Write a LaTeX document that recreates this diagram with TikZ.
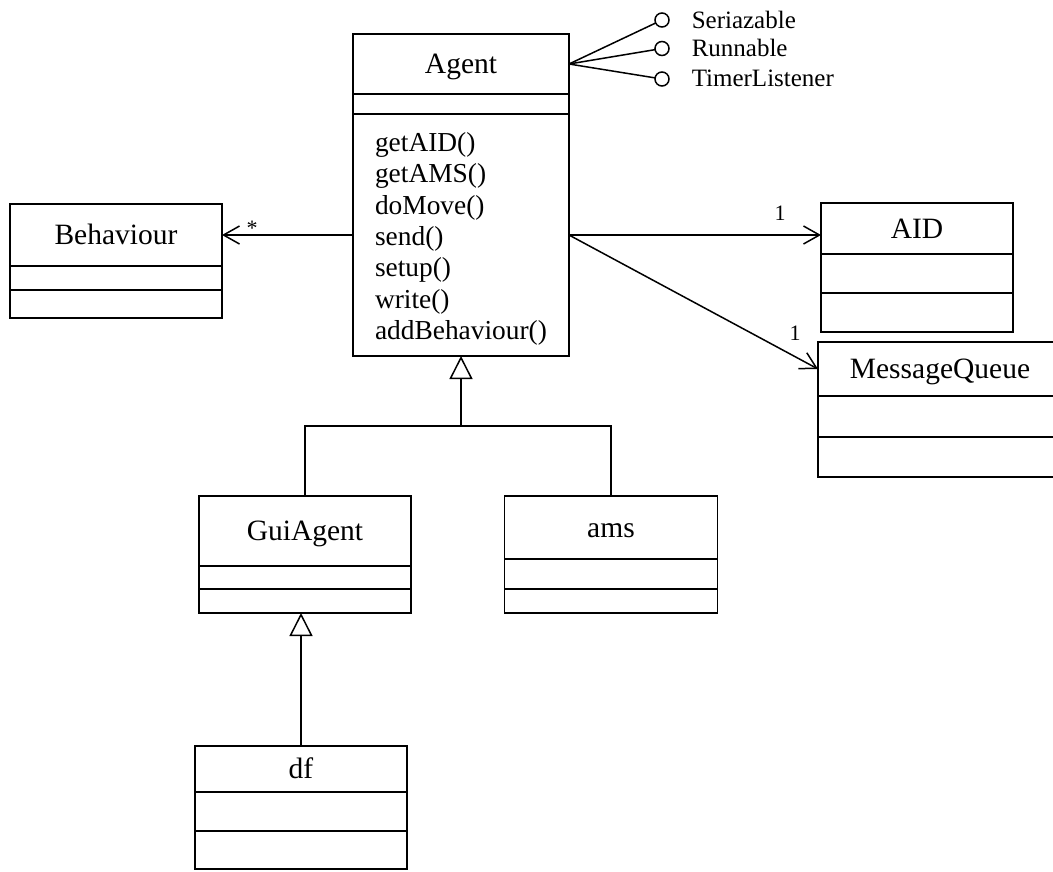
\documentclass[tikz,border=0pt]{standalone}
\usepackage{fontspec}
\setmainfont{Liberation Serif}
\usepackage{tikz}
\usetikzlibrary{arrows.meta}
\usetikzlibrary{calc}

\begin{document}
\begin{tikzpicture}[x=1pt, y=-1pt, line width=1.5pt,
        class_name_style/.style={draw=black, rectangle, anchor=north, inner sep=2pt, outer sep=0pt, text height=26.5pt, text depth=7pt, font=\fontsize{29.5}{35}\selectfont},
        compartment_style/.style={draw=black, rectangle, anchor=north, inner sep=2pt, outer sep=0pt, align=left, font=\fontsize{27.4}{31.3}\selectfont},
        interface_style/.style={circle, draw=black, fill=white, minimum size=14pt, inner sep=0pt, outer sep=0pt},
        interface_label_style/.style={anchor=base west, inner sep=0pt, font=\fontsize{25}{29}\selectfont},
        mult_style/.style={anchor=base, inner sep=0pt, font=\fontsize{22}{26}\selectfont},
        assoc_edge_style/.style={draw=black, -{Straight Barb[length=16pt, width=18pt]}},
        gen_edge_style/.style={draw=black, -{Triangle[open, length=23pt, width=23pt]}}]

        \useasboundingbox (0,0) rectangle (1053,871);
        \clip (0,0) rectangle (1053,871);

        % Agent
        \node [class_name_style, minimum width=216pt, minimum height=60pt](agent_name) at (461,34) {Agent};

        \node [compartment_style, minimum width=216pt, minimum height=20pt](agent_attr) at (agent_name.south) {};

        \node [compartment_style, minimum width=216pt, minimum height=242pt](agent_ops) at (agent_attr.south) {\rule{0pt}{27pt}getAID()\\getAMS()\\doMove()\\send()\\setup()\\write()\\addBehaviour()};

        % Behaviour
        \node [class_name_style, minimum width=212pt, minimum height=62pt](behaviour_name) at (116,204) {Behaviour};

        \node [compartment_style, minimum width=212pt, minimum height=24pt](behaviour_attr) at (behaviour_name.south) {};

        \node [compartment_style, minimum width=212pt, minimum height=28pt](behaviour_ops) at (behaviour_attr.south) {};

        % AID
        \node [class_name_style, minimum width=192pt, minimum height=51pt](aid_name) at (917,203) {AID};

        \node [compartment_style, minimum width=192pt, minimum height=39pt](aid_attr) at (aid_name.south) {};

        \node [compartment_style, minimum width=192pt, minimum height=39pt](aid_ops) at (aid_attr.south) {};

        % MessageQueue
        \node [class_name_style, minimum width=244pt, minimum height=54pt](mq_name) at (940,342) {MessageQueue};

        \node [compartment_style, minimum width=244pt, minimum height=41pt](mq_attr) at (mq_name.south) {};

        \node [compartment_style, minimum width=244pt, minimum height=40pt](mq_ops) at (mq_attr.south) {};

        % GuiAgent
        \node [class_name_style, minimum width=212pt, minimum height=70pt](gui_name) at (305,496) {GuiAgent};

        \node [compartment_style, minimum width=212pt, minimum height=23pt](gui_attr) at (gui_name.south) {};

        \node [compartment_style, minimum width=212pt, minimum height=24pt](gui_ops) at (gui_attr.south) {};

        % ams
        \node [class_name_style, minimum width=213pt, minimum height=63pt](ams_name) at (611,496) {ams};

        \node [compartment_style, minimum width=213pt, minimum height=30pt](ams_attr) at (ams_name.south) {};

        \node [compartment_style, minimum width=213pt, minimum height=24pt](ams_ops) at (ams_attr.south) {};

        % df
        \node [class_name_style, minimum width=212pt, minimum height=46pt](df_name) at (301,746) {df};

        \node [compartment_style, minimum width=212pt, minimum height=39pt](df_attr) at (df_name.south) {};

        \node [compartment_style, minimum width=212pt, minimum height=38pt](df_ops) at (df_attr.south) {};

        % interfaces
        \node [interface_style](if_ser) at (662,20) {};

        \node [interface_style](if_run) at (662,48.5) {};

        \node [interface_style](if_timer) at (662,79) {};

        \node [interface_label_style](if_ser_label) at (691,28) {Seriazable};

        \node [interface_label_style](if_run_label) at (691,56) {Runnable};

        \node [interface_label_style](if_timer_label) at (691,86) {TimerListener};

        \draw (agent_name.east) -- (if_ser);

        \draw (agent_name.east) -- (if_run);

        \draw (agent_name.east) -- (if_timer);

        % associations
        \draw [assoc_edge_style] (agent_ops.west) -- (behaviour_name.east);

        \draw [assoc_edge_style] (agent_ops.east) -- (agent_ops.east -| aid_name.west);

        \draw [assoc_edge_style] (agent_ops.east) -- (mq_name.west);

        \node [mult_style](mult_behaviour) at (252,235) {*};

        \node [mult_style](mult_aid) at (780,220) {1};

        \node [mult_style](mult_mq) at (795,340) {1};

        % generalizations
        \coordinate (gen_bus) at (461,426);

        \draw (gui_name.north) |- (gen_bus) -| (ams_name.north);

        \draw [gen_edge_style] (gen_bus) -- (agent_ops.south);

        \draw [gen_edge_style] (df_name.north) -- (df_name.north |- gui_ops.south);

\end{tikzpicture}
\end{document}
